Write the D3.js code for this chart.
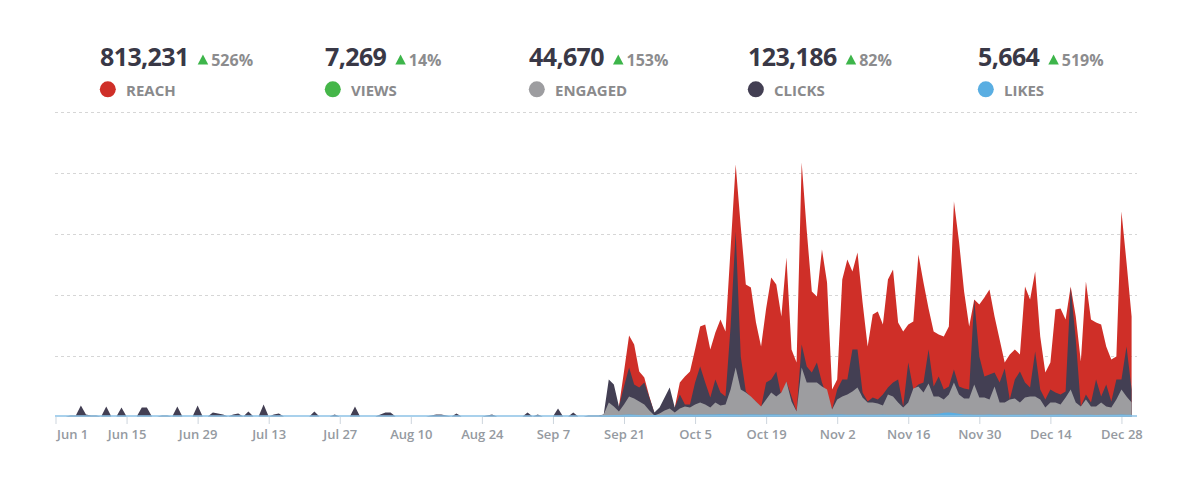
<!DOCTYPE html>
<html>
<head>
<meta charset="utf-8">
<script src="https://cdn.jsdelivr.net/npm/d3@7"></script>
<style>
  html, body { margin: 0; padding: 0; background: #ffffff; }
  svg { display: block; font-family: "Open Sans", "Noto Sans", sans-serif; }
</style>
</head>
<body>
<svg id="chart" width="1200" height="480"></svg>
<script>
// ---------- DATA ----------
const startDate = "2015-06-01";           // first day of the daily series
const endDate = "2015-12-30";             // last day of the daily series

const metricNames  = ["REACH", "VIEWS", "ENGAGED", "CLICKS", "LIKES"];
const metricTotals = ["813,231", "7,269", "44,670", "123,186", "5,664"];
const metricChange = ["526%", "14%", "153%", "82%", "519%"];

const tickDates = ["2015-06-01","2015-06-15","2015-06-29","2015-07-13","2015-07-27","2015-08-10",
  "2015-08-24","2015-09-07","2015-09-21","2015-10-05","2015-10-19","2015-11-02","2015-11-16",
  "2015-11-30","2015-12-14","2015-12-28"];
const gridValues = [5000, 10000, 15000, 20000, 25000];

// daily values, Jun 1 .. Dec 30
const reach = [
  0,0,0,0,0,0,0,0,0,0, 0,0,0,0,0,0,0,0,0,0, 0,0,0,0,0,0,0,0,0,0,
  0,0,0,0,0,0,0,0,0,0, 0,0,0,0,0,0,0,0,0,0, 0,0,0,0,0,0,0,0,0,0,
  0,0,0,0,0,0,0,0,0,0, 0,0,0,0,0,0,0,0,0,0, 0,0,0,0,0,0,0,0,0,0,
  0,0,0,0,0,0,0,0,0,0, 0,0,0,0,0,0,0,0,0,0, 0,
  820,3690,6642,5904,3690,3198,1640,246,0,0,
  0,738,2788,3280,3690,5494,7380,7544,5494,6888,
  7954,6970,13776,20664,15580,10824,10578,7708,5740,8856,
  11398,10824,8200,13038,5494,4428,20828,15252,10250,9840,
  13694,10988,2214,3034,11234,12874,11890,13448,9348,5740,
  8364,8610,7544,11234,12054,7708,6970,7544,7790,13284,
  10988,8856,6970,6724,6560,7380,17630,14350,10250,7380,
  9594,9184,9758,10414,8200,6314,4428,5084,5494,5084,
  10660,9594,11890,6560,3608,4428,8774,8856,7954,10660,
  8200,4510,11070,7954,7708,7544,5740,4674,4920,16810,
  12628,8200
];

const clicks = [
  0,0,0,82,82,902,164,82,82,0,
  820,0,0,738,0,0,0,738,738,0,
  0,82,82,0,820,0,0,0,902,0,
  0,328,246,164,0,164,246,0,410,0,
  0,984,0,164,246,0,0,0,0,0,
  0,410,0,0,0,164,0,0,0,820,
  0,0,0,0,164,328,328,0,0,0,
  0,0,0,0,82,164,164,82,0,246,
  0,0,0,0,0,82,164,0,0,0,
  0,0,0,328,0,164,0,0,0,656,
  0,0,328,0,0,82,82,82,164,3034,
  2624,820,2460,4018,2624,2378,2788,1558,328,738,
  1558,2378,738,1804,984,984,2788,4100,2788,1558,
  3034,1968,1640,7380,15170,4920,2050,1558,1230,738,
  2788,3034,3690,1640,2870,1640,410,5904,4100,3608,
  4428,2788,1640,574,2214,3034,3034,5494,5494,1968,
  1230,1558,1394,1804,2378,2788,3034,820,4428,2214,
  2624,2788,5494,2460,3280,2214,2460,3854,2460,2296,
  2214,9594,4920,3280,3444,3608,2788,3936,1394,3034,
  3690,2788,2378,5330,2214,1394,2214,1968,1804,2050,
  10578,6314,820,1804,1148,3034,1640,2624,1230,3034,
  3034,5740,2214
];

const engaged = [
  0,0,0,0,0,0,0,0,0,0, 0,0,0,0,0,0,0,0,0,0, 0,0,0,0,0,0,0,0,0,0,
  0,0,0,0,0,0,0,0,0,0, 0,0,0,0,0,0,0,0,0,0, 0,0,0,0,0,0,0,0,0,0,
  0,0,0,0,0,0,0,0,0,0, 0,0,0,0,0,0,0,0,0,0, 0,0,0,0,0,0,0,0,0,0,
  0,0,0,0,0,0,0,0,0,0, 0,0,0,0,0,0,0,0,
  164,1148,820,410,984,1640,1476,1230,984,492,
  82,246,492,656,328,656,820,738,984,1148,
  984,738,1148,902,984,2214,4018,2214,1968,1640,
  1230,820,1394,1968,1640,1968,2870,1230,410,4018,
  2788,2788,2788,2460,2214,574,1394,1640,1804,2050,
  2378,1558,1148,1148,1066,902,1804,1640,1148,738,
  1148,2296,2460,1968,2706,1640,1640,1394,1804,2788,
  1804,1476,1476,2624,1558,1558,1394,2460,1148,1148,
  1394,1476,1148,1558,1640,1640,1394,738,1148,1148,
  984,1558,2214,1148,820,1394,820,820,1148,820,
  738,1394,2214,1640,1148
];

const likes = [
  0,0,0,0,0,0,0,0,0,0, 0,0,0,0,0,0,0,0,0,0, 0,0,0,0,0,0,0,0,0,0,
  0,0,0,0,0,0,0,0,0,0, 0,0,0,0,0,0,0,0,0,0, 0,0,0,0,0,0,0,0,0,0,
  0,0,0,0,0,0,0,0,0,0, 0,0,0,0,0,0,0,0,0,0, 0,0,0,0,0,0,0,0,0,0,
  0,0,0,0,0,0,0,0,0,0, 0,0,0,0,0,0,0,0,
  40,90,120,130,150,160,140,120,100,110,
  120,130,140,150,140,160,170,160,150,160,
  170,160,170,180,190,170,160,150,160,170,
  160,150,160,170,160,150,140,170,160,150,
  160,150,140,130,150,160,170,160,150,140,
  150,160,150,140,150,160,150,140,150,160,
  150,140,150,160,170,180,230,300,330,290,
  220,170,160,150,140,150,160,150,140,130,
  140,150,140,150,160,150,140,130,140,150,
  160,150,140,130,140,150,140,130,140,150,
  140,150,160,150,140
];

const views = [
  0,0,0,0,0,0,0,0,0,0, 0,0,0,0,0,0,0,0,0,0, 0,0,0,0,0,0,0,0,0,0,
  0,0,0,0,0,0,0,0,0,0, 0,0,0,0,0,0,0,0,0,0, 0,0,0,0,0,0,0,0,0,0,
  0,0,0,0,0,0,0,0,0,0, 0,0,0,0,0,0,0,0,0,0, 0,0,0,0,0,0,0,0,0,0,
  0,0,0,0,0,0,0,0,0,0, 0,0,0,0,0,0,0,0,
  30,60,50,40,70,80,60,50,40,30,
  20,30,40,50,40,50,60,70,60,50,
  60,50,60,70,110,90,70,60,50,40,
  60,70,80,60,70,60,40,100,90,80,
  80,70,60,30,50,60,70,80,90,60,
  50,60,50,40,60,70,60,50,50,60,
  70,80,60,70,80,60,70,60,90,80,
  70,60,60,50,60,90,60,70,60,50,
  60,70,60,70,60,70,60,50,60,60,
  70,60,50,60,50,50,60,40,50,60,
  40,50,90,70,60
];

// ---------- STYLE ----------
const colors = { REACH: "#cf2f28", VIEWS: "#45b649", ENGAGED: "#9d9da0", CLICKS: "#433f53", LIKES: "#5aaee2" };

const svg = d3.select("#chart");
const parse = d3.utcParse("%Y-%m-%d");
const t0 = parse(startDate), t1 = parse(endDate);
const dates = reach.map((_, i) => d3.utcDay.offset(t0, i));

const x = d3.scaleUtc().domain([t0, t1]).range([55.5, 1131.6]);
const y = d3.scaleLinear().domain([0, 25000]).range([416.5, 111.5]);

// ---------- HEADER ----------
const itemX = [100, 325, 529, 748, 978];
metricNames.forEach((name, i) => {
  const g = svg.append("g").attr("transform", `translate(${itemX[i]},0)`);
  const num = g.append("text").attr("x", 0).attr("y", 66)
    .attr("font-size", 25).attr("font-weight", 700).attr("letter-spacing", -0.6)
    .attr("fill", "#393846")
    .text(metricTotals[i]);
  const w = num.node().getComputedTextLength();
  const tx = w + 9;
  g.append("path")
    .attr("d", `M${tx},64.5 L${tx + 10.5},64.5 L${tx + 5.25},54.5 Z`)
    .attr("fill", "#3db54a");
  g.append("text").attr("x", tx + 13.5).attr("y", 66)
    .attr("font-size", 16).attr("font-weight", 700).attr("fill", "#8c8c8e")
    .text(metricChange[i]);
  g.append("circle").attr("cx", 7.8).attr("cy", 89.3).attr("r", 8)
    .attr("fill", colors[name]);
  g.append("text").attr("x", 26).attr("y", 95.5)
    .attr("font-size", 15).attr("font-weight", 700).attr("fill", "#8a8a8c")
    .text(name);
});

// ---------- GRID ----------
svg.append("g").selectAll("line").data(gridValues).join("line")
  .attr("x1", 55).attr("x2", 1137)
  .attr("y1", d => Math.round(y(d)) + 0.5).attr("y2", d => Math.round(y(d)) + 0.5)
  .attr("stroke", "#d6d6d6").attr("stroke-width", 1).attr("stroke-dasharray", "3,3");

// ---------- AREAS ----------
const area = d3.area().x((d, i) => x(dates[i])).y0(y(0)).y1(d => y(d)).curve(d3.curveLinear);
const layers = [
  { name: "VIEWS", values: views },
  { name: "REACH", values: reach },
  { name: "CLICKS", values: clicks },
  { name: "ENGAGED", values: engaged },
  { name: "LIKES", values: likes }
];
svg.append("g").selectAll("path").data(layers).join("path")
  .attr("d", d => area(d.values))
  .attr("fill", d => colors[d.name]);

// baseline (likes line)
svg.append("line").attr("x1", 55).attr("x2", 1137)
  .attr("y1", y(0) - 0.5).attr("y2", y(0) - 0.5)
  .attr("stroke", "#8cc2e6").attr("stroke-width", 1.6);

// ---------- X AXIS ----------
const fmt = d3.utcFormat("%b %-d");
const xAxis = d3.axisBottom(x)
  .tickValues(tickDates.map(parse))
  .tickFormat(fmt)
  .tickSize(7).tickPadding(6);
const ax = svg.append("g").attr("transform", `translate(0,${y(0) + 0.5})`).call(xAxis);
ax.select(".domain").remove();
ax.selectAll(".tick line").attr("stroke", "#cdd5dd").attr("stroke-width", 1);
ax.selectAll(".tick text")
  .attr("font-family", "'Open Sans', sans-serif")
  .attr("font-size", 13).attr("font-weight", 600).attr("fill", "#959aa1");
ax.select(".tick text").attr("text-anchor", "start").attr("x", 1);
</script>
</body>
</html>
